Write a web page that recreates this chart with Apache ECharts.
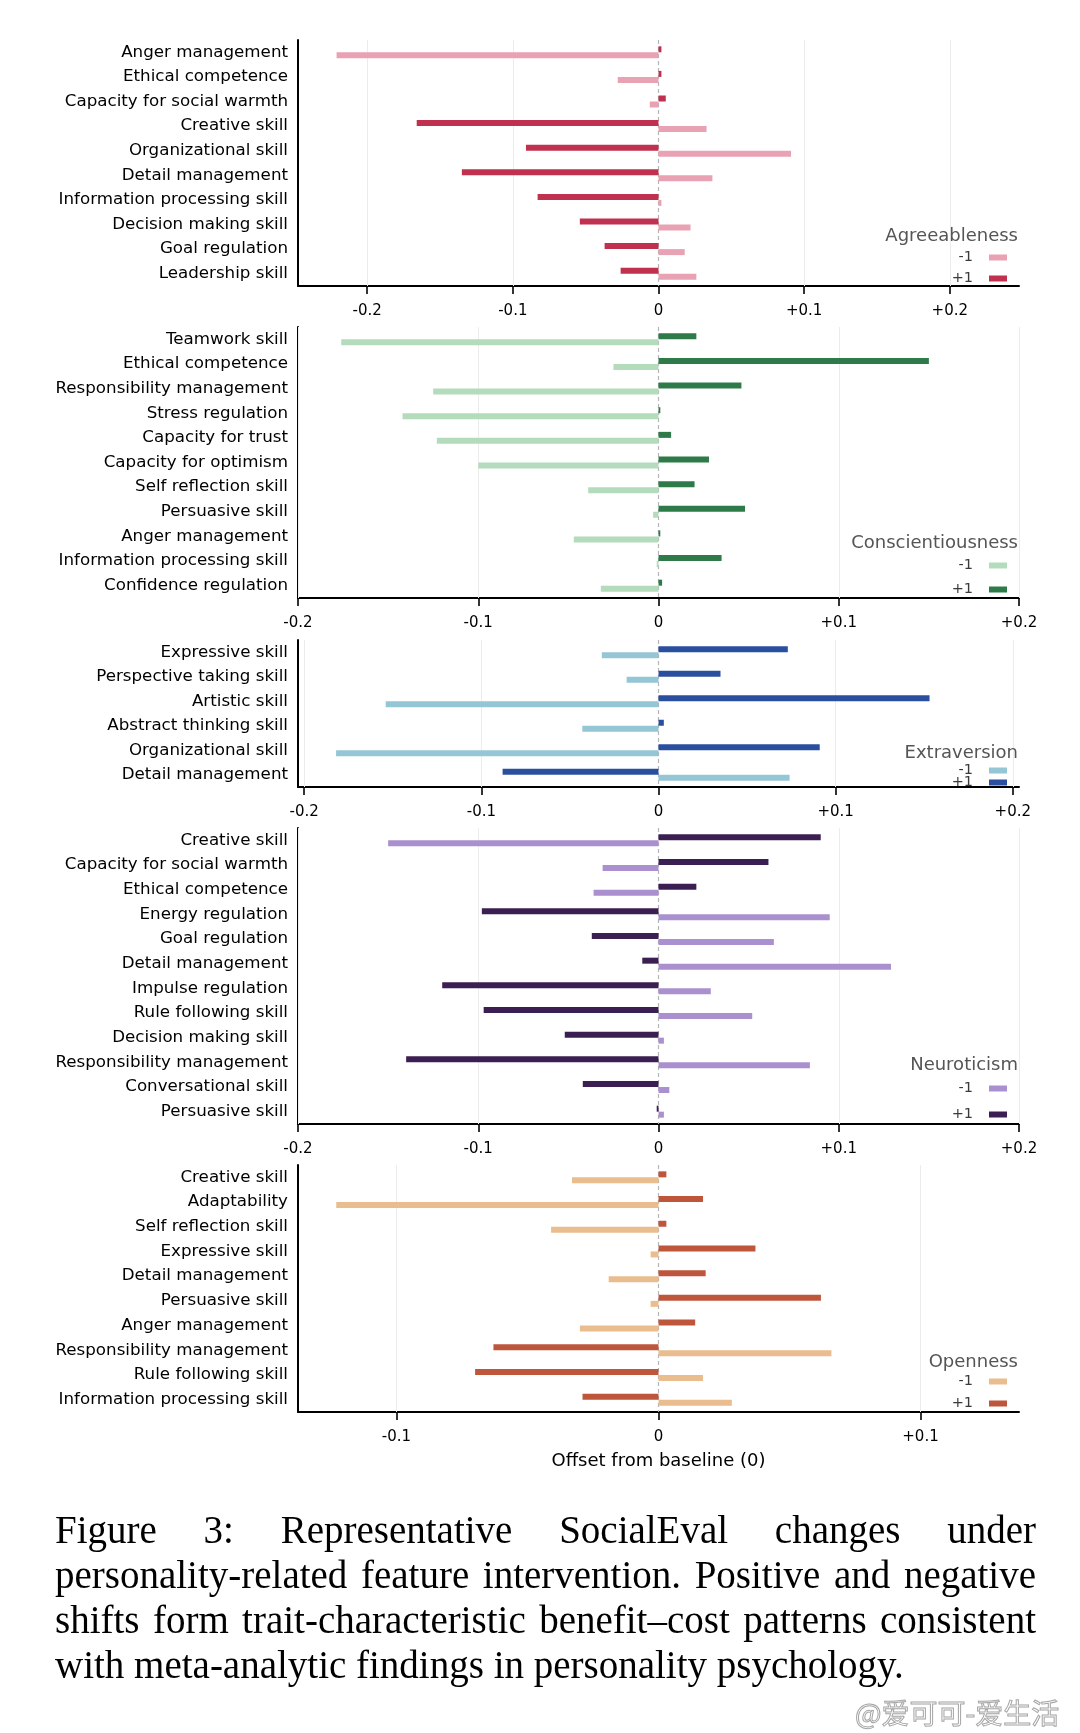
<!DOCTYPE html>
<html><head><meta charset="utf-8">
<script src="https://cdn.jsdelivr.net/npm/echarts@6/dist/echarts.min.js"></script>
<style>
html,body{margin:0;padding:0;background:#fff;}
#chart{position:absolute;left:0;top:0;width:1080px;height:1733px;}
#caption{position:absolute;left:55px;top:1507px;width:981px;font-family:'Liberation Serif','Times New Roman',serif;font-size:39px;line-height:45px;color:#000;}
#caption div{text-align:justify;text-align-last:justify;}
#caption div.last{text-align:left;text-align-last:left;}
#wm{position:absolute;left:855px;top:1694px;font-family:'Noto Sans CJK SC',sans-serif;font-size:28px;line-height:36px;color:rgba(255,255,255,0.95);-webkit-text-stroke:1px #a5a5a5;white-space:nowrap;}
</style></head>
<body>
<div id="chart"></div>
<div id="caption">
<div>Figure 3: Representative SocialEval changes under</div>
<div>personality-related feature intervention. Positive and negative</div>
<div>shifts form trait-characteristic benefit–cost patterns consistent</div>
<div class="last">with meta-analytic findings in personality psychology.</div>
</div>
<div id="wm">@爱可可-爱生活</div>
<script>
// ---- data ----
const agreeCats = ['Anger management','Ethical competence','Capacity for social warmth','Creative skill','Organizational skill','Detail management','Information processing skill','Decision making skill','Goal regulation','Leadership skill'];
const agreePlus = [0.002,0.002,0.005,-0.166,-0.091,-0.135,-0.083,-0.054,-0.037,-0.026];
const agreeMinus = [-0.221,-0.028,-0.006,0.033,0.091,0.037,0.002,0.022,0.018,0.026];

const consCats = ['Teamwork skill','Ethical competence','Responsibility management','Stress regulation','Capacity for trust','Capacity for optimism','Self reflection skill','Persuasive skill','Anger management','Information processing skill','Confidence regulation'];
const consPlus = [0.021,0.150,0.046,0.001,0.007,0.028,0.020,0.048,0.001,0.035,0.002];
const consMinus = [-0.176,-0.025,-0.125,-0.142,-0.123,-0.100,-0.039,-0.003,-0.047,-0.001,-0.032];

const extraCats = ['Expressive skill','Perspective taking skill','Artistic skill','Abstract thinking skill','Organizational skill','Detail management'];
const extraPlus = [0.073,0.035,0.153,0.003,0.091,-0.088];
const extraMinus = [-0.032,-0.018,-0.154,-0.043,-0.182,0.074];

const neuroCats = ['Creative skill','Capacity for social warmth','Ethical competence','Energy regulation','Goal regulation','Detail management','Impulse regulation','Rule following skill','Decision making skill','Responsibility management','Conversational skill','Persuasive skill'];
const neuroPlus = [0.090,0.061,0.021,-0.098,-0.037,-0.009,-0.120,-0.097,-0.052,-0.140,-0.042,-0.001];
const neuroMinus = [-0.150,-0.031,-0.036,0.095,0.064,0.129,0.029,0.052,0.003,0.084,0.006,0.003];

const openCats = ['Creative skill','Adaptability','Self reflection skill','Expressive skill','Detail management','Persuasive skill','Anger management','Responsibility management','Rule following skill','Information processing skill'];
const openPlus = [0.003,0.017,0.003,0.037,0.018,0.062,0.014,-0.063,-0.070,-0.029];
const openMinus = [-0.033,-0.123,-0.041,-0.003,-0.019,-0.003,-0.030,0.066,0.017,0.028];

const ticksWide = [-0.2,-0.1,0,0.1,0.2];
const ticksNarrow = [-0.1,0,0.1];
const legendLabels = ['-1','+1'];
const traitNames = ['Agreeableness','Conscientiousness','Extraversion','Neuroticism','Openness'];

// ---- layout / style ----
const panels = [
  {key:'A', cats:agreeCats, plus:agreePlus, minus:agreeMinus, ticks:ticksWide, ext:0.2475, top:40, height:246, legTop:250, legGap:6, titleTop:227, cPlus:'#c0304f', cMinus:'#e9a2b3'},
  {key:'C', cats:consCats, plus:consPlus, minus:consMinus, ticks:ticksWide, ext:0.2, top:327, height:271, legTop:558, legGap:9, titleTop:534, cPlus:'#2e7a48', cMinus:'#b4dcbc'},
  {key:'E', cats:extraCats, plus:extraPlus, minus:extraMinus, ticks:ticksWide, ext:0.2035, top:640, height:147, legTop:763, legGap:-3, titleTop:744, cPlus:'#2b4f9f', cMinus:'#94c6d6'},
  {key:'N', cats:neuroCats, plus:neuroPlus, minus:neuroMinus, ticks:ticksWide, ext:0.2, top:828, height:296, legTop:1081, legGap:11, titleTop:1056, cPlus:'#3c1f52', cMinus:'#aa90cf'},
  {key:'O', cats:openCats, plus:openPlus, minus:openMinus, ticks:ticksNarrow, ext:0.1376, top:1165, height:247, legTop:1374, legGap:7, titleTop:1353, cPlus:'#be563c', cMinus:'#e9bd8e'}
];
const FONT = 'DejaVu Sans';
const fmt = v => Math.abs(v) < 1e-9 ? '0' : (v > 0 ? '+' : '-') + Math.abs(v).toFixed(1);

const chart = echarts.init(document.getElementById('chart'), null, {renderer:'canvas'});
const option = {
  animation:false,
  backgroundColor:'#fff',
  title: panels.map((p,i)=>({text:traitNames[i], right:62, top:p.titleTop, padding:0,
    textStyle:{fontSize:18, fontWeight:'normal', color:'#555', fontFamily:FONT, lineHeight:18}})),
  legend: panels.map(p=>({orient:'vertical', right:73, top:p.legTop, align:'right', padding:0,
    itemWidth:18, itemHeight:6, itemGap:p.legGap, icon:'rect', selectedMode:false,
    data:legendLabels.map(l=>p.key+l), formatter:n=>n.slice(1),
    textStyle:{fontSize:14.5, color:'#3a3a3a', fontFamily:FONT, lineHeight:14, padding:[0,11,0,0]}})),
  grid: panels.map(p=>({left:298, right:61, top:p.top, height:p.height})),
  xAxis: panels.map((p,i)=>({type:'value', gridIndex:i, min:-p.ext, max:p.ext,
    axisLine:{show:true, onZero:false, lineStyle:{color:'#000', width:2}},
    axisTick:{show:true, length:8, customValues:p.ticks, lineStyle:{color:'#000', width:1.6}},
    axisLabel:{customValues:p.ticks, formatter:fmt, fontSize:15, color:'#000', fontFamily:FONT, margin:18},
    splitLine:{show:false},
    name: i===4 ? 'Offset from baseline (0)' : '', nameLocation:'middle', nameGap:40,
    nameTextStyle:{fontSize:18, color:'#000', fontFamily:FONT}})),
  yAxis: panels.map((p,i)=>({type:'category', gridIndex:i, data:p.cats, inverse:true,
    axisLine:{show:true, onZero:false, lineStyle:{color:'#000', width:2}},
    axisTick:{show:false},
    axisLabel:{fontSize:16.7, color:'#000', fontFamily:FONT, margin:10},
    splitLine:{show:false}})),
  series: []
};
panels.forEach((p,i)=>{
  option.series.push({type:'bar', name:p.key+'+1', xAxisIndex:i, yAxisIndex:i, data:p.plus,
    barWidth:6, barGap:'0%', itemStyle:{color:p.cPlus}, silent:true, z:3});
  option.series.push({type:'bar', name:p.key+'-1', xAxisIndex:i, yAxisIndex:i, data:p.minus,
    barWidth:6, barGap:'0%', itemStyle:{color:p.cMinus}, silent:true, z:3,
    markLine:{silent:true, symbol:'none', label:{show:false}, z:1,
      data: p.ticks.filter(t=>Math.abs(t) > 1e-9).map(t=>({xAxis:t, lineStyle:{color:'#ececec', width:1, type:'solid'}}))
        .concat([{xAxis:0, lineStyle:{color:'#b5b5b5', width:1.2, type:[4,3]}}])}});
});
chart.setOption(option);
</script>
</body></html>
